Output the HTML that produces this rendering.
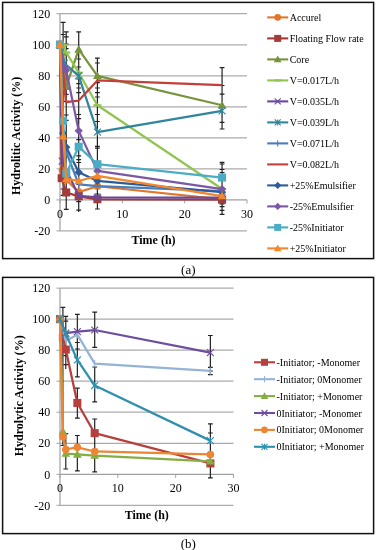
<!DOCTYPE html>
<html><head><meta charset="utf-8"><style>
html,body{margin:0;padding:0;background:#fff;}
svg{display:block;will-change:transform;}
text{font-family:"Liberation Serif",serif;}
</style></head><body>
<svg width="376" height="550" viewBox="0 0 376 550" fill="#000">
<rect width="376" height="550" fill="#fff"/>
<rect x="2.6" y="2.4" width="371" height="256.2" fill="none" stroke="#111" stroke-width="1.5"/>
<line x1="60" y1="13.73" x2="247" y2="13.73" stroke="#ababab" stroke-width="1.25"/>
<line x1="60" y1="44.76" x2="247" y2="44.76" stroke="#ababab" stroke-width="1.25"/>
<line x1="60" y1="75.79" x2="247" y2="75.79" stroke="#ababab" stroke-width="1.25"/>
<line x1="60" y1="106.82" x2="247" y2="106.82" stroke="#ababab" stroke-width="1.25"/>
<line x1="60" y1="137.84" x2="247" y2="137.84" stroke="#ababab" stroke-width="1.25"/>
<line x1="60" y1="168.87" x2="247" y2="168.87" stroke="#ababab" stroke-width="1.25"/>
<line x1="60" y1="230.93" x2="247" y2="230.93" stroke="#ababab" stroke-width="1.25"/>
<line x1="60" y1="13.73" x2="60" y2="230.93" stroke="#a0a0a0" stroke-width="1.2"/>
<line x1="56.5" y1="13.73" x2="60" y2="13.73" stroke="#a0a0a0" stroke-width="1"/>
<text x="50.3" y="17.93" text-anchor="end" font-size="12">120</text>
<line x1="56.5" y1="44.76" x2="60" y2="44.76" stroke="#a0a0a0" stroke-width="1"/>
<text x="50.3" y="48.96" text-anchor="end" font-size="12">100</text>
<line x1="56.5" y1="75.79" x2="60" y2="75.79" stroke="#a0a0a0" stroke-width="1"/>
<text x="50.3" y="79.99" text-anchor="end" font-size="12">80</text>
<line x1="56.5" y1="106.82" x2="60" y2="106.82" stroke="#a0a0a0" stroke-width="1"/>
<text x="50.3" y="111.02" text-anchor="end" font-size="12">60</text>
<line x1="56.5" y1="137.84" x2="60" y2="137.84" stroke="#a0a0a0" stroke-width="1"/>
<text x="50.3" y="142.04" text-anchor="end" font-size="12">40</text>
<line x1="56.5" y1="168.87" x2="60" y2="168.87" stroke="#a0a0a0" stroke-width="1"/>
<text x="50.3" y="173.07" text-anchor="end" font-size="12">20</text>
<line x1="56.5" y1="199.9" x2="60" y2="199.9" stroke="#a0a0a0" stroke-width="1"/>
<text x="50.3" y="204.1" text-anchor="end" font-size="12">0</text>
<line x1="56.5" y1="230.93" x2="60" y2="230.93" stroke="#a0a0a0" stroke-width="1"/>
<text x="50.3" y="235.13" text-anchor="end" font-size="12">-20</text>
<line x1="60" y1="199.9" x2="247" y2="199.9" stroke="#a0a0a0" stroke-width="1.2"/>
<line x1="60" y1="199.9" x2="60" y2="203.4" stroke="#a0a0a0" stroke-width="1"/>
<text x="60" y="218" text-anchor="middle" font-size="12">0</text>
<line x1="122.33" y1="199.9" x2="122.33" y2="203.4" stroke="#a0a0a0" stroke-width="1"/>
<text x="122.33" y="218" text-anchor="middle" font-size="12">10</text>
<line x1="184.67" y1="199.9" x2="184.67" y2="203.4" stroke="#a0a0a0" stroke-width="1"/>
<text x="184.67" y="218" text-anchor="middle" font-size="12">20</text>
<line x1="247" y1="199.9" x2="247" y2="203.4" stroke="#a0a0a0" stroke-width="1"/>
<text x="247" y="218" text-anchor="middle" font-size="12">30</text>
<path d="M63.12 22.3V195M60.72 22.3H65.52M60.72 34.5H65.52M60.72 189H65.52M60.72 195.3H65.52" stroke="#222" stroke-width="1.2" fill="none"/>
<path d="M66.23 31.8V209.3M63.83 31.8H68.63M63.83 36.8H68.63M63.83 44H68.63M63.83 48.6H68.63M63.83 94.3H68.63M63.83 101.4H68.63M63.83 115H68.63M63.83 120.3H68.63M63.83 209.3H68.63" stroke="#222" stroke-width="1.2" fill="none"/>
<path d="M78.7 31.8V212M76.3 31.8H81.1M76.3 59H81.1M76.3 67H81.1M76.3 79H81.1M76.3 83.6H81.1M76.3 88H81.1M76.3 92.7H81.1M76.3 114.5H81.1M76.3 118.6H81.1M76.3 139.6H81.1M76.3 155.8H81.1M76.3 159.6H81.1M76.3 162.5H81.1M76.3 184.4H81.1M76.3 201.6H81.1M76.3 210.2H81.1" stroke="#222" stroke-width="1.2" fill="none"/>
<path d="M97.4 58.2V209M95 58.2H99.8M95 63H99.8M95 82.7H99.8M95 88H99.8M95 92.7H99.8M95 97H99.8M95 114.5H99.8M95 121.5H99.8M95 146.3H99.8M95 148.2H99.8M95 194H99.8M95 209H99.8" stroke="#222" stroke-width="1.2" fill="none"/>
<path d="M222.07 67.6V129M222.07 162.4V214.4M219.67 67.6H224.47M219.67 85.5H224.47M219.67 94.2H224.47M219.67 122.4H224.47M219.67 129H224.47M219.67 162.4H224.47M219.67 164H224.47M219.67 169.5H224.47M219.67 172.5H224.47M219.67 203.8H224.47M219.67 206.7H224.47M219.67 210.3H224.47M219.67 214.4H224.47" stroke="#222" stroke-width="1.2" fill="none"/>
<polyline points="62.49,170.42 66.23,179.73 78.7,192.14 97.4,186.25 222.07,199.28" fill="none" stroke="#E2772B" stroke-width="2.25" stroke-linejoin="round"/>
<circle cx="62.49" cy="170.42" r="3.79" fill="#E2772B"/>
<circle cx="66.23" cy="179.73" r="3.79" fill="#E2772B"/>
<circle cx="78.7" cy="192.14" r="3.79" fill="#E2772B"/>
<circle cx="97.4" cy="186.25" r="3.79" fill="#E2772B"/>
<circle cx="222.07" cy="199.28" r="3.79" fill="#E2772B"/>
<polyline points="60,44.76 61.68,178.18 66.23,192.45 78.7,196.33 97.4,199.28 222.07,199.74" fill="none" stroke="#A33B38" stroke-width="2.25" stroke-linejoin="round"/>
<rect x="55.98" y="40.74" width="8.05" height="8.05" fill="#A33B38"/>
<rect x="57.66" y="174.16" width="8.05" height="8.05" fill="#A33B38"/>
<rect x="62.21" y="188.43" width="8.05" height="8.05" fill="#A33B38"/>
<rect x="74.67" y="192.31" width="8.05" height="8.05" fill="#A33B38"/>
<rect x="93.38" y="195.25" width="8.05" height="8.05" fill="#A33B38"/>
<rect x="218.04" y="195.72" width="8.05" height="8.05" fill="#A33B38"/>
<polyline points="60,44.76 63.12,52.52 66.23,86.65 78.7,49.41 97.4,75.79 222.07,105.26" fill="none" stroke="#77933C" stroke-width="2.25" stroke-linejoin="round"/>
<path d="M60 40.39L64.37 48.04L55.63 48.04Z" fill="#77933C"/>
<path d="M63.12 48.15L67.49 55.79L58.75 55.79Z" fill="#77933C"/>
<path d="M66.23 82.28L70.6 89.93L61.86 89.93Z" fill="#77933C"/>
<path d="M78.7 45.04L83.07 52.69L74.33 52.69Z" fill="#77933C"/>
<path d="M97.4 71.42L101.77 79.07L93.03 79.07Z" fill="#77933C"/>
<path d="M222.07 100.89L226.44 108.54L217.7 108.54Z" fill="#77933C"/>
<polyline points="63.74,44.76 66.23,52.52 78.7,72.69 97.4,105.26 222.07,189.04" fill="none" stroke="#92C450" stroke-width="2.25" stroke-linejoin="round"/>
<path d="M59.72 44.76H67.77" stroke="#92C450" stroke-width="2.2" fill="none"/>
<path d="M62.21 52.52H70.26" stroke="#92C450" stroke-width="2.2" fill="none"/>
<path d="M74.67 72.69H82.73" stroke="#92C450" stroke-width="2.2" fill="none"/>
<path d="M93.38 105.26H101.43" stroke="#92C450" stroke-width="2.2" fill="none"/>
<path d="M218.04 189.04H226.09" stroke="#92C450" stroke-width="2.2" fill="none"/>
<polyline points="60,44.76 62.18,161.12 78.7,195.87 97.4,197.42 222.07,197.57" fill="none" stroke="#6A489C" stroke-width="2.25" stroke-linejoin="round"/>
<path d="M56.55 41.31L63.45 48.21M63.45 41.31L56.55 48.21" stroke="#6A489C" stroke-width="1.1" fill="none"/>
<path d="M58.73 157.67L65.63 164.56M65.63 157.67L58.73 164.56" stroke="#6A489C" stroke-width="1.1" fill="none"/>
<path d="M75.25 192.42L82.15 199.32M82.15 192.42L75.25 199.32" stroke="#6A489C" stroke-width="1.1" fill="none"/>
<path d="M93.95 193.97L100.85 200.87M100.85 193.97L93.95 200.87" stroke="#6A489C" stroke-width="1.1" fill="none"/>
<path d="M218.62 194.12L225.52 201.02M225.52 194.12L218.62 201.02" stroke="#6A489C" stroke-width="1.1" fill="none"/>
<polyline points="60,44.76 64.36,63.38 78.7,75.79 97.4,132.1 222.07,110.85" fill="none" stroke="#31859C" stroke-width="2.25" stroke-linejoin="round"/>
<path d="M56.55 41.31L63.45 48.21M63.45 41.31L56.55 48.21M60 41.31L60 48.21" stroke="#31859C" stroke-width="1.1" fill="none"/>
<path d="M60.91 59.93L67.81 66.83M67.81 59.93L60.91 66.83M64.36 59.93L64.36 66.83" stroke="#31859C" stroke-width="1.1" fill="none"/>
<path d="M75.25 72.34L82.15 79.24M82.15 72.34L75.25 79.24M78.7 72.34L78.7 79.24" stroke="#31859C" stroke-width="1.1" fill="none"/>
<path d="M93.95 128.65L100.85 135.55M100.85 128.65L93.95 135.55M97.4 128.65L97.4 135.55" stroke="#31859C" stroke-width="1.1" fill="none"/>
<path d="M218.62 107.4L225.52 114.3M225.52 107.4L218.62 114.3M222.07 107.4L222.07 114.3" stroke="#31859C" stroke-width="1.1" fill="none"/>
<polyline points="60,44.76 63.12,137.84 66.23,151.81 78.7,184.39 97.4,186.09 222.07,191.06" fill="none" stroke="#4A7EBB" stroke-width="2.25" stroke-linejoin="round"/>
<path d="M60 41.08L60 48.44" stroke="#4A7EBB" stroke-width="1.1" fill="none"/>
<path d="M63.12 134.16L63.12 141.52" stroke="#4A7EBB" stroke-width="1.1" fill="none"/>
<path d="M66.23 148.13L66.23 155.49" stroke="#4A7EBB" stroke-width="1.1" fill="none"/>
<path d="M78.7 180.71L78.7 188.07" stroke="#4A7EBB" stroke-width="1.1" fill="none"/>
<path d="M97.4 182.41L97.4 189.77" stroke="#4A7EBB" stroke-width="1.1" fill="none"/>
<path d="M222.07 187.38L222.07 194.74" stroke="#4A7EBB" stroke-width="1.1" fill="none"/>
<polyline points="60,44.76 63.74,77.34 65.92,102.16 78.7,100.61 97.4,80.44 222.07,85.1" fill="none" stroke="#C43E3A" stroke-width="2.25" stroke-linejoin="round"/>






<polyline points="60,44.76 63.12,133.19 66.23,147.15 78.7,172.29 97.4,180.97 222.07,192.14" fill="none" stroke="#2C5D98" stroke-width="2.25" stroke-linejoin="round"/>
<path d="M60 40.62L64.14 44.76L60 48.9L55.86 44.76Z" fill="#2C5D98"/>
<path d="M63.12 129.05L67.26 133.19L63.12 137.33L58.98 133.19Z" fill="#2C5D98"/>
<path d="M66.23 143.01L70.37 147.15L66.23 151.29L62.09 147.15Z" fill="#2C5D98"/>
<path d="M78.7 168.15L82.84 172.29L78.7 176.43L74.56 172.29Z" fill="#2C5D98"/>
<path d="M97.4 176.83L101.54 180.97L97.4 185.11L93.26 180.97Z" fill="#2C5D98"/>
<path d="M222.07 188L226.21 192.14L222.07 196.28L217.93 192.14Z" fill="#2C5D98"/>
<polyline points="60,44.76 63.12,66.48 66.23,70.36 78.7,130.86 97.4,170.89 222.07,189.04" fill="none" stroke="#7B58A6" stroke-width="2.25" stroke-linejoin="round"/>
<path d="M60 40.62L64.14 44.76L60 48.9L55.86 44.76Z" fill="#7B58A6"/>
<path d="M63.12 62.34L67.26 66.48L63.12 70.62L58.98 66.48Z" fill="#7B58A6"/>
<path d="M66.23 66.22L70.37 70.36L66.23 74.5L62.09 70.36Z" fill="#7B58A6"/>
<path d="M78.7 126.72L82.84 130.86L78.7 135L74.56 130.86Z" fill="#7B58A6"/>
<path d="M97.4 166.75L101.54 170.89L97.4 175.03L93.26 170.89Z" fill="#7B58A6"/>
<path d="M222.07 184.9L226.21 189.04L222.07 193.18L217.93 189.04Z" fill="#7B58A6"/>
<polyline points="60,44.76 63.12,120.78 66.23,173.53 78.7,146.69 97.4,164.22 222.07,177.56" fill="none" stroke="#4BACC6" stroke-width="2.25" stroke-linejoin="round"/>
<rect x="55.98" y="40.74" width="8.05" height="8.05" fill="#4BACC6"/>
<rect x="59.09" y="116.75" width="8.05" height="8.05" fill="#4BACC6"/>
<rect x="62.21" y="169.5" width="8.05" height="8.05" fill="#4BACC6"/>
<rect x="74.67" y="142.66" width="8.05" height="8.05" fill="#4BACC6"/>
<rect x="93.38" y="160.19" width="8.05" height="8.05" fill="#4BACC6"/>
<rect x="218.04" y="173.53" width="8.05" height="8.05" fill="#4BACC6"/>
<polyline points="60,44.76 63.12,136.29 66.23,178.96 78.7,180.97 97.4,175.85 222.07,196.02" fill="none" stroke="#F4862C" stroke-width="2.25" stroke-linejoin="round"/>
<path d="M60 40.39L64.37 48.04L55.63 48.04Z" fill="#F4862C"/>
<path d="M63.12 131.92L67.49 139.57L58.75 139.57Z" fill="#F4862C"/>
<path d="M66.23 174.59L70.6 182.23L61.86 182.23Z" fill="#F4862C"/>
<path d="M78.7 176.6L83.07 184.25L74.33 184.25Z" fill="#F4862C"/>
<path d="M97.4 171.48L101.77 179.13L93.03 179.13Z" fill="#F4862C"/>
<path d="M222.07 191.65L226.44 199.3L217.7 199.3Z" fill="#F4862C"/>
<text x="153.5" y="244.4" text-anchor="middle" font-size="12" font-weight="bold">Time (h)</text>
<text transform="translate(19.8,135.9) rotate(-90)" text-anchor="middle" font-size="12" font-weight="bold">Hydrolitic Activity (%)</text>
<line x1="267.2" y1="17.4" x2="288.2" y2="17.4" stroke="#E2772B" stroke-width="2.1"/>
<circle cx="277.7" cy="17.4" r="3.3" fill="#E2772B"/>
<text x="289.7" y="20.9" font-size="10">Accurel</text>
<line x1="267.2" y1="38.4" x2="288.2" y2="38.4" stroke="#A33B38" stroke-width="2.1"/>
<rect x="274.2" y="34.9" width="7" height="7" fill="#A33B38"/>
<text x="289.7" y="41.9" font-size="10">Floating Flow rate</text>
<line x1="267.2" y1="59.4" x2="288.2" y2="59.4" stroke="#77933C" stroke-width="2.1"/>
<path d="M277.7 55.6L281.5 62.25L273.9 62.25Z" fill="#77933C"/>
<text x="289.7" y="62.9" font-size="10">Core</text>
<line x1="267.2" y1="80.4" x2="288.2" y2="80.4" stroke="#92C450" stroke-width="2.1"/>
<path d="M274.2 80.4H281.2" stroke="#92C450" stroke-width="2.2" fill="none"/>
<text x="289.7" y="83.9" font-size="10">V=0.017L/h</text>
<line x1="267.2" y1="101.4" x2="288.2" y2="101.4" stroke="#6A489C" stroke-width="2.1"/>
<path d="M274.7 98.4L280.7 104.4M280.7 98.4L274.7 104.4" stroke="#6A489C" stroke-width="1.1" fill="none"/>
<text x="289.7" y="104.9" font-size="10">V=0.035L/h</text>
<line x1="267.2" y1="122.4" x2="288.2" y2="122.4" stroke="#31859C" stroke-width="2.1"/>
<path d="M274.7 119.4L280.7 125.4M280.7 119.4L274.7 125.4M277.7 119.4L277.7 125.4" stroke="#31859C" stroke-width="1.1" fill="none"/>
<text x="289.7" y="125.9" font-size="10">V=0.039L/h</text>
<line x1="267.2" y1="143.4" x2="288.2" y2="143.4" stroke="#4A7EBB" stroke-width="2.1"/>
<path d="M277.7 140.2L277.7 146.6" stroke="#4A7EBB" stroke-width="1.1" fill="none"/>
<text x="289.7" y="146.9" font-size="10">V=0.071L/h</text>
<line x1="267.2" y1="164.4" x2="288.2" y2="164.4" stroke="#C43E3A" stroke-width="2.1"/>

<text x="289.7" y="167.9" font-size="10">V=0.082L/h</text>
<line x1="267.2" y1="185.4" x2="288.2" y2="185.4" stroke="#2C5D98" stroke-width="2.1"/>
<path d="M277.7 181.8L281.3 185.4L277.7 189L274.1 185.4Z" fill="#2C5D98"/>
<text x="289.7" y="188.9" font-size="10">+25%Emulsifier</text>
<line x1="267.2" y1="206.4" x2="288.2" y2="206.4" stroke="#7B58A6" stroke-width="2.1"/>
<path d="M277.7 202.8L281.3 206.4L277.7 210L274.1 206.4Z" fill="#7B58A6"/>
<text x="289.7" y="209.9" font-size="10">-25%Emulsifier</text>
<line x1="267.2" y1="227.4" x2="288.2" y2="227.4" stroke="#4BACC6" stroke-width="2.1"/>
<rect x="274.2" y="223.9" width="7" height="7" fill="#4BACC6"/>
<text x="289.7" y="230.9" font-size="10">-25%Initiator</text>
<line x1="267.2" y1="248.4" x2="288.2" y2="248.4" stroke="#F4862C" stroke-width="2.1"/>
<path d="M277.7 244.6L281.5 251.25L273.9 251.25Z" fill="#F4862C"/>
<text x="289.7" y="251.9" font-size="10">+25%Initiator</text>
<rect x="2.6" y="277.4" width="371" height="256.2" fill="none" stroke="#111" stroke-width="1.5"/>
<line x1="60" y1="288.13" x2="233.5" y2="288.13" stroke="#ababab" stroke-width="1.25"/>
<line x1="60" y1="319.16" x2="233.5" y2="319.16" stroke="#ababab" stroke-width="1.25"/>
<line x1="60" y1="350.19" x2="233.5" y2="350.19" stroke="#ababab" stroke-width="1.25"/>
<line x1="60" y1="381.22" x2="233.5" y2="381.22" stroke="#ababab" stroke-width="1.25"/>
<line x1="60" y1="412.24" x2="233.5" y2="412.24" stroke="#ababab" stroke-width="1.25"/>
<line x1="60" y1="443.27" x2="233.5" y2="443.27" stroke="#ababab" stroke-width="1.25"/>
<line x1="60" y1="505.33" x2="233.5" y2="505.33" stroke="#ababab" stroke-width="1.25"/>
<line x1="60" y1="288.13" x2="60" y2="505.33" stroke="#a0a0a0" stroke-width="1.2"/>
<line x1="56.5" y1="288.13" x2="60" y2="288.13" stroke="#a0a0a0" stroke-width="1"/>
<text x="50.3" y="292.33" text-anchor="end" font-size="12">120</text>
<line x1="56.5" y1="319.16" x2="60" y2="319.16" stroke="#a0a0a0" stroke-width="1"/>
<text x="50.3" y="323.36" text-anchor="end" font-size="12">100</text>
<line x1="56.5" y1="350.19" x2="60" y2="350.19" stroke="#a0a0a0" stroke-width="1"/>
<text x="50.3" y="354.39" text-anchor="end" font-size="12">80</text>
<line x1="56.5" y1="381.22" x2="60" y2="381.22" stroke="#a0a0a0" stroke-width="1"/>
<text x="50.3" y="385.42" text-anchor="end" font-size="12">60</text>
<line x1="56.5" y1="412.24" x2="60" y2="412.24" stroke="#a0a0a0" stroke-width="1"/>
<text x="50.3" y="416.44" text-anchor="end" font-size="12">40</text>
<line x1="56.5" y1="443.27" x2="60" y2="443.27" stroke="#a0a0a0" stroke-width="1"/>
<text x="50.3" y="447.47" text-anchor="end" font-size="12">20</text>
<line x1="56.5" y1="474.3" x2="60" y2="474.3" stroke="#a0a0a0" stroke-width="1"/>
<text x="50.3" y="478.5" text-anchor="end" font-size="12">0</text>
<line x1="56.5" y1="505.33" x2="60" y2="505.33" stroke="#a0a0a0" stroke-width="1"/>
<text x="50.3" y="509.53" text-anchor="end" font-size="12">-20</text>
<line x1="60" y1="474.3" x2="233.5" y2="474.3" stroke="#a0a0a0" stroke-width="1.2"/>
<line x1="60" y1="474.3" x2="60" y2="477.8" stroke="#a0a0a0" stroke-width="1"/>
<text x="60" y="492.4" text-anchor="middle" font-size="12">0</text>
<line x1="117.83" y1="474.3" x2="117.83" y2="477.8" stroke="#a0a0a0" stroke-width="1"/>
<text x="117.83" y="492.4" text-anchor="middle" font-size="12">10</text>
<line x1="175.67" y1="474.3" x2="175.67" y2="477.8" stroke="#a0a0a0" stroke-width="1"/>
<text x="175.67" y="492.4" text-anchor="middle" font-size="12">20</text>
<line x1="233.5" y1="474.3" x2="233.5" y2="477.8" stroke="#a0a0a0" stroke-width="1"/>
<text x="233.5" y="492.4" text-anchor="middle" font-size="12">30</text>
<path d="M62.89 307.3V445.5M60.49 307.3H65.29M60.49 445.5H65.29" stroke="#222" stroke-width="1.2" fill="none"/>
<path d="M65.78 316.3V369M65.78 433.6V469M63.38 316.3H68.18M63.38 321.2H68.18M63.38 355.6H68.18M63.38 364.6H68.18M63.38 433.6H68.18M63.38 469H68.18" stroke="#222" stroke-width="1.2" fill="none"/>
<path d="M77.35 314.3V376.8M77.35 388.2V418.2M77.35 435.5V470.9M74.95 314.3H79.75M74.95 342.5H79.75M74.95 349H79.75M74.95 376.8H79.75M74.95 388.2H79.75M74.95 418.2H79.75M74.95 435.5H79.75M74.95 470.9H79.75" stroke="#222" stroke-width="1.2" fill="none"/>
<path d="M94.7 312.2V347.4M94.7 367V401.8M94.7 419V471.8M92.3 312.2H97.1M92.3 347.4H97.1M92.3 367H97.1M92.3 401.8H97.1M92.3 419H97.1M92.3 471.8H97.1" stroke="#222" stroke-width="1.2" fill="none"/>
<path d="M210.37 335.5V374.7M210.37 423.9V477.8M207.97 335.5H212.77M207.97 367.4H212.77M207.97 371H212.77M207.97 374.7H212.77M207.97 423.9H212.77M207.97 433H212.77M207.97 477.8H212.77" stroke="#222" stroke-width="1.2" fill="none"/>
<polyline points="60,319.16 62.89,337.78 65.78,349.57 77.35,402.94 94.7,433.19 210.37,463.44" fill="none" stroke="#B5403D" stroke-width="2.25" stroke-linejoin="round"/>
<rect x="55.98" y="315.14" width="8.05" height="8.05" fill="#B5403D"/>
<rect x="58.87" y="333.75" width="8.05" height="8.05" fill="#B5403D"/>
<rect x="61.76" y="345.54" width="8.05" height="8.05" fill="#B5403D"/>
<rect x="73.32" y="398.91" width="8.05" height="8.05" fill="#B5403D"/>
<rect x="90.67" y="429.16" width="8.05" height="8.05" fill="#B5403D"/>
<rect x="206.34" y="459.42" width="8.05" height="8.05" fill="#B5403D"/>
<polyline points="60,319.16 65.78,340.88 77.35,334.67 94.7,363.69 210.37,370.98" fill="none" stroke="#95B3D7" stroke-width="2.25" stroke-linejoin="round"/>
<path d="M60 315.48L60 322.84" stroke="#95B3D7" stroke-width="1.1" fill="none"/>
<path d="M65.78 337.2L65.78 344.56" stroke="#95B3D7" stroke-width="1.1" fill="none"/>
<path d="M77.35 330.99L77.35 338.35" stroke="#95B3D7" stroke-width="1.1" fill="none"/>
<path d="M94.7 360.01L94.7 367.37" stroke="#95B3D7" stroke-width="1.1" fill="none"/>
<path d="M210.37 367.3L210.37 374.66" stroke="#95B3D7" stroke-width="1.1" fill="none"/>
<polyline points="60,319.16 62.89,431.33 65.78,453.51 77.35,454.44 94.7,455.53 210.37,461.27" fill="none" stroke="#85AD45" stroke-width="2.25" stroke-linejoin="round"/>
<path d="M60 314.79L64.37 322.44L55.63 322.44Z" fill="#85AD45"/>
<path d="M62.89 426.96L67.26 434.6L58.52 434.6Z" fill="#85AD45"/>
<path d="M65.78 449.14L70.15 456.79L61.41 456.79Z" fill="#85AD45"/>
<path d="M77.35 450.07L81.72 457.72L72.98 457.72Z" fill="#85AD45"/>
<path d="M94.7 451.16L99.07 458.81L90.33 458.81Z" fill="#85AD45"/>
<path d="M210.37 456.9L214.74 464.55L206 464.55Z" fill="#85AD45"/>
<polyline points="60,319.16 65.78,333.12 77.35,331.57 94.7,330.02 210.37,352.67" fill="none" stroke="#6D4E9E" stroke-width="2.25" stroke-linejoin="round"/>
<path d="M56.55 315.71L63.45 322.61M63.45 315.71L56.55 322.61" stroke="#6D4E9E" stroke-width="1.1" fill="none"/>
<path d="M62.33 329.67L69.23 336.57M69.23 329.67L62.33 336.57" stroke="#6D4E9E" stroke-width="1.1" fill="none"/>
<path d="M73.9 328.12L80.8 335.02M80.8 328.12L73.9 335.02" stroke="#6D4E9E" stroke-width="1.1" fill="none"/>
<path d="M91.25 326.57L98.15 333.47M98.15 326.57L91.25 333.47" stroke="#6D4E9E" stroke-width="1.1" fill="none"/>
<path d="M206.92 349.22L213.82 356.12M213.82 349.22L206.92 356.12" stroke="#6D4E9E" stroke-width="1.1" fill="none"/>
<polyline points="60,319.16 62.89,436.76 65.78,449.48 77.35,447.31 94.7,451.49 210.37,454.44" fill="none" stroke="#EC8534" stroke-width="2.25" stroke-linejoin="round"/>
<circle cx="60" cy="319.16" r="3.79" fill="#EC8534"/>
<circle cx="62.89" cy="436.76" r="3.79" fill="#EC8534"/>
<circle cx="65.78" cy="449.48" r="3.79" fill="#EC8534"/>
<circle cx="77.35" cy="447.31" r="3.79" fill="#EC8534"/>
<circle cx="94.7" cy="451.49" r="3.79" fill="#EC8534"/>
<circle cx="210.37" cy="454.44" r="3.79" fill="#EC8534"/>
<polyline points="60,319.16 65.78,333.9 77.35,359.96 94.7,385.56 210.37,440.63" fill="none" stroke="#2E90AE" stroke-width="2.25" stroke-linejoin="round"/>
<path d="M56.55 315.71L63.45 322.61M63.45 315.71L56.55 322.61M60 315.71L60 322.61" stroke="#2E90AE" stroke-width="1.1" fill="none"/>
<path d="M62.33 330.45L69.23 337.35M69.23 330.45L62.33 337.35M65.78 330.45L65.78 337.35" stroke="#2E90AE" stroke-width="1.1" fill="none"/>
<path d="M73.9 356.51L80.8 363.41M80.8 356.51L73.9 363.41M77.35 356.51L77.35 363.41" stroke="#2E90AE" stroke-width="1.1" fill="none"/>
<path d="M91.25 382.11L98.15 389.01M98.15 382.11L91.25 389.01M94.7 382.11L94.7 389.01" stroke="#2E90AE" stroke-width="1.1" fill="none"/>
<path d="M206.92 437.18L213.82 444.08M213.82 437.18L206.92 444.08M210.37 437.18L210.37 444.08" stroke="#2E90AE" stroke-width="1.1" fill="none"/>
<text x="146.75" y="518.8" text-anchor="middle" font-size="12" font-weight="bold">Time (h)</text>
<text transform="translate(23.2,395.7) rotate(-90)" text-anchor="middle" font-size="12" font-weight="bold">Hydrolytic Activity (%)</text>
<line x1="254" y1="362.3" x2="275" y2="362.3" stroke="#B5403D" stroke-width="2.1"/>
<rect x="261" y="358.8" width="7" height="7" fill="#B5403D"/>
<text x="276.5" y="365.8" font-size="10">-Initiator; -Monomer</text>
<line x1="254" y1="379.2" x2="275" y2="379.2" stroke="#95B3D7" stroke-width="2.1"/>
<path d="M264.5 376L264.5 382.4" stroke="#95B3D7" stroke-width="1.1" fill="none"/>
<text x="276.5" y="382.7" font-size="10">-Initiator; 0Monomer</text>
<line x1="254" y1="396.1" x2="275" y2="396.1" stroke="#85AD45" stroke-width="2.1"/>
<path d="M264.5 392.3L268.3 398.95L260.7 398.95Z" fill="#85AD45"/>
<text x="276.5" y="399.6" font-size="10">-Initiator; +Monomer</text>
<line x1="254" y1="413" x2="275" y2="413" stroke="#6D4E9E" stroke-width="2.1"/>
<path d="M261.5 410L267.5 416M267.5 410L261.5 416" stroke="#6D4E9E" stroke-width="1.1" fill="none"/>
<text x="276.5" y="416.5" font-size="10">0Initiator; -Monomer</text>
<line x1="254" y1="429.9" x2="275" y2="429.9" stroke="#EC8534" stroke-width="2.1"/>
<circle cx="264.5" cy="429.9" r="3.3" fill="#EC8534"/>
<text x="276.5" y="433.4" font-size="10">0Initiator; 0Monomer</text>
<line x1="254" y1="446.8" x2="275" y2="446.8" stroke="#2E90AE" stroke-width="2.1"/>
<path d="M261.5 443.8L267.5 449.8M267.5 443.8L261.5 449.8M264.5 443.8L264.5 449.8" stroke="#2E90AE" stroke-width="1.1" fill="none"/>
<text x="276.5" y="450.3" font-size="10">0Initiator; +Monomer</text>
<text x="188.3" y="274" text-anchor="middle" font-size="13">(a)</text>
<text x="188.3" y="548" text-anchor="middle" font-size="13">(b)</text>
</svg>
</body></html>
